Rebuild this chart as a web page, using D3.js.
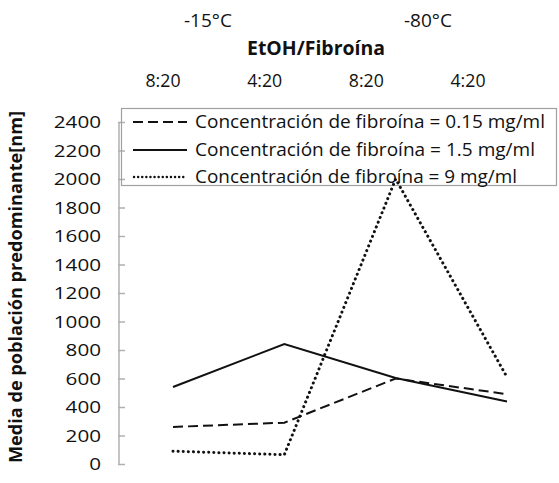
<!DOCTYPE html>
<html><head><meta charset="utf-8">
<script src="https://cdn.jsdelivr.net/npm/d3@7"></script>
<style>body{margin:0;background:#fff}svg{display:block}text{font-family:"Open Sans",sans-serif;fill:#111}</style>
</head><body><svg id="c" width="559" height="483"></svg>
<script>
const groups = ["-15°C", "-80°C"];
const categories = ["8:20", "4:20", "8:20", "4:20"];
const yTicks = [0,200,400,600,800,1000,1200,1400,1600,1800,2000,2200,2400];
const seriesNames = ["Concentración de fibroína = 0.15 mg/ml","Concentración de fibroína = 1.5 mg/ml","Concentración de fibroína = 9 mg/ml"];
const s015 = [260, 290, 600, 490];
const s15 = [540, 842, 603, 438];
const s9 = [90, 65, 2000, 610];
const series = [s015, s15, s9];
const dashes = ["10,5", null, "0.1,5"];

const svg = d3.select("#c");
const keys = categories.map((c,i)=>i);
const x = d3.scalePoint().domain(keys).range([173, 507]);
const xTop = d3.scalePoint().domain(keys).range([163, 468]);
const xGroup = d3.scaleBand().domain(groups).range([98, 538]);
const y = d3.scaleLinear().domain([0, 2400]).range([464, 122]);

// y axis
const ya = svg.append("g").attr("transform","translate(119,0)")
  .call(d3.axisRight(y).tickValues(yTicks).tickSize(6).tickFormat(""));
ya.select(".domain").attr("stroke","#b0b0b0").attr("stroke-width",1.5).attr("d","M0,122V464");
ya.selectAll(".tick line").attr("stroke","#b0b0b0").attr("stroke-width",1.5).attr("x1",-1);
svg.append("g").selectAll("text").data(yTicks).join("text")
  .attr("x",101).attr("y",d=>y(d)+6).attr("text-anchor","end")
  .style("font-size","17px").text(d=>d)
  .each(function(d){ const L=String(d).length; d3.select(this).attr("textLength", L*11.8).attr("lengthAdjust","spacingAndGlyphs"); });

svg.append("text").attr("transform","translate(22,287) rotate(-90)").attr("text-anchor","middle")
  .style("font-size","17.5px").style("font-weight","bold")
  .attr("textLength",352).attr("lengthAdjust","spacingAndGlyphs")
  .text("Media de población predominante[nm]");

// top labels
svg.append("g").selectAll("text").data(groups).join("text")
  .attr("x",d=>xGroup(d)+xGroup.bandwidth()/2).attr("y",27).attr("text-anchor","middle")
  .style("font-size","19px").attr("textLength",48).attr("lengthAdjust","spacingAndGlyphs").text(d=>d);
svg.append("text").attr("x",316).attr("y",55).attr("text-anchor","middle")
  .style("font-size","19.5px").style("font-weight","bold")
  .attr("textLength",138).attr("lengthAdjust","spacingAndGlyphs").text("EtOH/Fibroína");
svg.append("g").selectAll("text").data(keys).join("text")
  .attr("x",d=>xTop(d)).attr("y",87).attr("text-anchor","middle")
  .style("font-size","18.5px").attr("textLength",35).attr("lengthAdjust","spacingAndGlyphs").text(d=>categories[d]);

// legend
const lg = svg.append("g");
lg.append("rect").attr("x",121.5).attr("y",108.5).attr("width",435).attr("height",77)
  .attr("fill","none").attr("stroke","#a0a0a0").attr("stroke-width",1.2);
const rows = [122, 150, 177];
seriesNames.forEach((n,i)=>{
  lg.append("line").attr("x1",i===2?134:133).attr("x2",187).attr("y1",rows[i]).attr("y2",rows[i])
    .attr("stroke","#111").attr("stroke-width",i===2?2.4:2)
    .attr("stroke-dasharray",i===2?"0.1,4":dashes[i]).attr("stroke-linecap", i===2?"round":"butt");
  lg.append("text").attr("x",195).attr("y",rows[i]+6).style("font-size","18px")
    .attr("textLength",[350,340,322][i]).attr("lengthAdjust","spacingAndGlyphs").text(n);
});

// lines
const line = d3.line().x((d,i)=>x(keys[i])).y(d=>y(d));
series.forEach((s,i)=>{
  svg.append("path").datum(s).attr("d",line).attr("fill","none")
    .attr("stroke","#111").attr("stroke-width", i===2?3:2)
    .attr("stroke-dasharray",dashes[i]).attr("stroke-linecap", i===2?"round":"butt");
});
</script></body></html>
